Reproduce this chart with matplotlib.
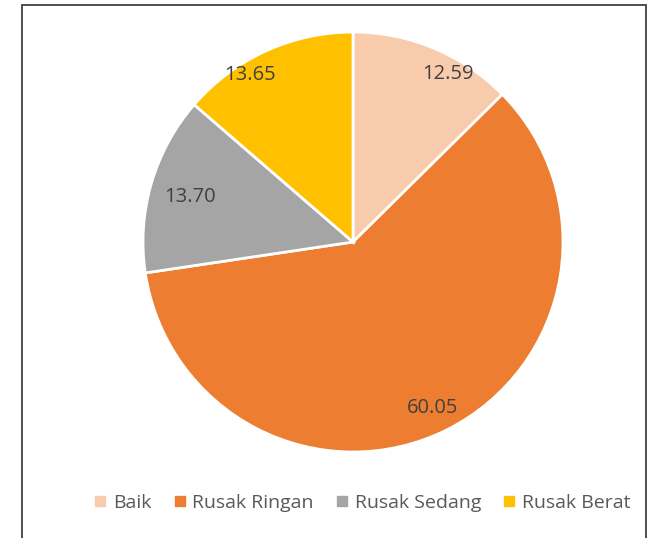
import numpy as np
import matplotlib
matplotlib.use("Agg")
import matplotlib.pyplot as plt
from matplotlib.patches import Rectangle
from matplotlib.lines import Line2D

categories = ["Baik", "Rusak Ringan", "Rusak Sedang", "Rusak Berat"]
values = [12.59, 60.05, 13.70, 13.65]
colors = ["#F8CBAD", "#ED7D31", "#A5A5A5", "#FFC000"]

# label placement along each wedge: radius fraction and angular nudge (deg)
label_radius = [0.92, 0.876, 0.805, 0.935]
label_nudge = [-6.8, -1.1, 0.8, 7.1]

plt.rcParams["font.family"] = ["Open Sans", "DejaVu Sans"]

W, H = 656, 538
fig = plt.figure(figsize=(W / 100, H / 100), dpi=100)
fig.patch.set_facecolor("white")

# outer frame (open at the bottom)
fig.add_artist(Rectangle((22 / W, -0.1), (646 - 22) / W, 1.1 - 5 / H,
                         transform=fig.transFigure, fill=False,
                         edgecolor="#404040", linewidth=1.3))

cx, cy, r = 353, 242, 210
ax = fig.add_axes([(cx - r) / W, (H - cy - r) / H, 2 * r / W, 2 * r / H])
wedges, _ = ax.pie(values, colors=colors, startangle=90, counterclock=False,
                   radius=1.0, center=(0, 0),
                   wedgeprops=dict(edgecolor="white", linewidth=2))
ax.set_xlim(-1, 1)
ax.set_ylim(-1, 1)
ax.set_aspect("equal")
ax.axis("off")

for w, v, rr, dn in zip(wedges, values, label_radius, label_nudge):
    ang = np.deg2rad((w.theta1 + w.theta2) / 2 + dn)
    ax.text(rr * np.cos(ang), rr * np.sin(ang), f"{v:.2f}",
            ha="center", va="center", fontsize=14.5, color="#404040")

handles = [Line2D([], [], marker="s", linestyle="none", markersize=7,
                  markerfacecolor=c, markeredgecolor=c) for c in colors]
fig.legend(handles, categories, loc="center", ncol=4,
           bbox_to_anchor=(362 / W, 1 - 503 / H), frameon=False,
           fontsize=14, labelcolor="#595959", handlelength=0.7,
           handletextpad=0.3, columnspacing=1.1)

fig.savefig("out.png", dpi=100, facecolor="white")
